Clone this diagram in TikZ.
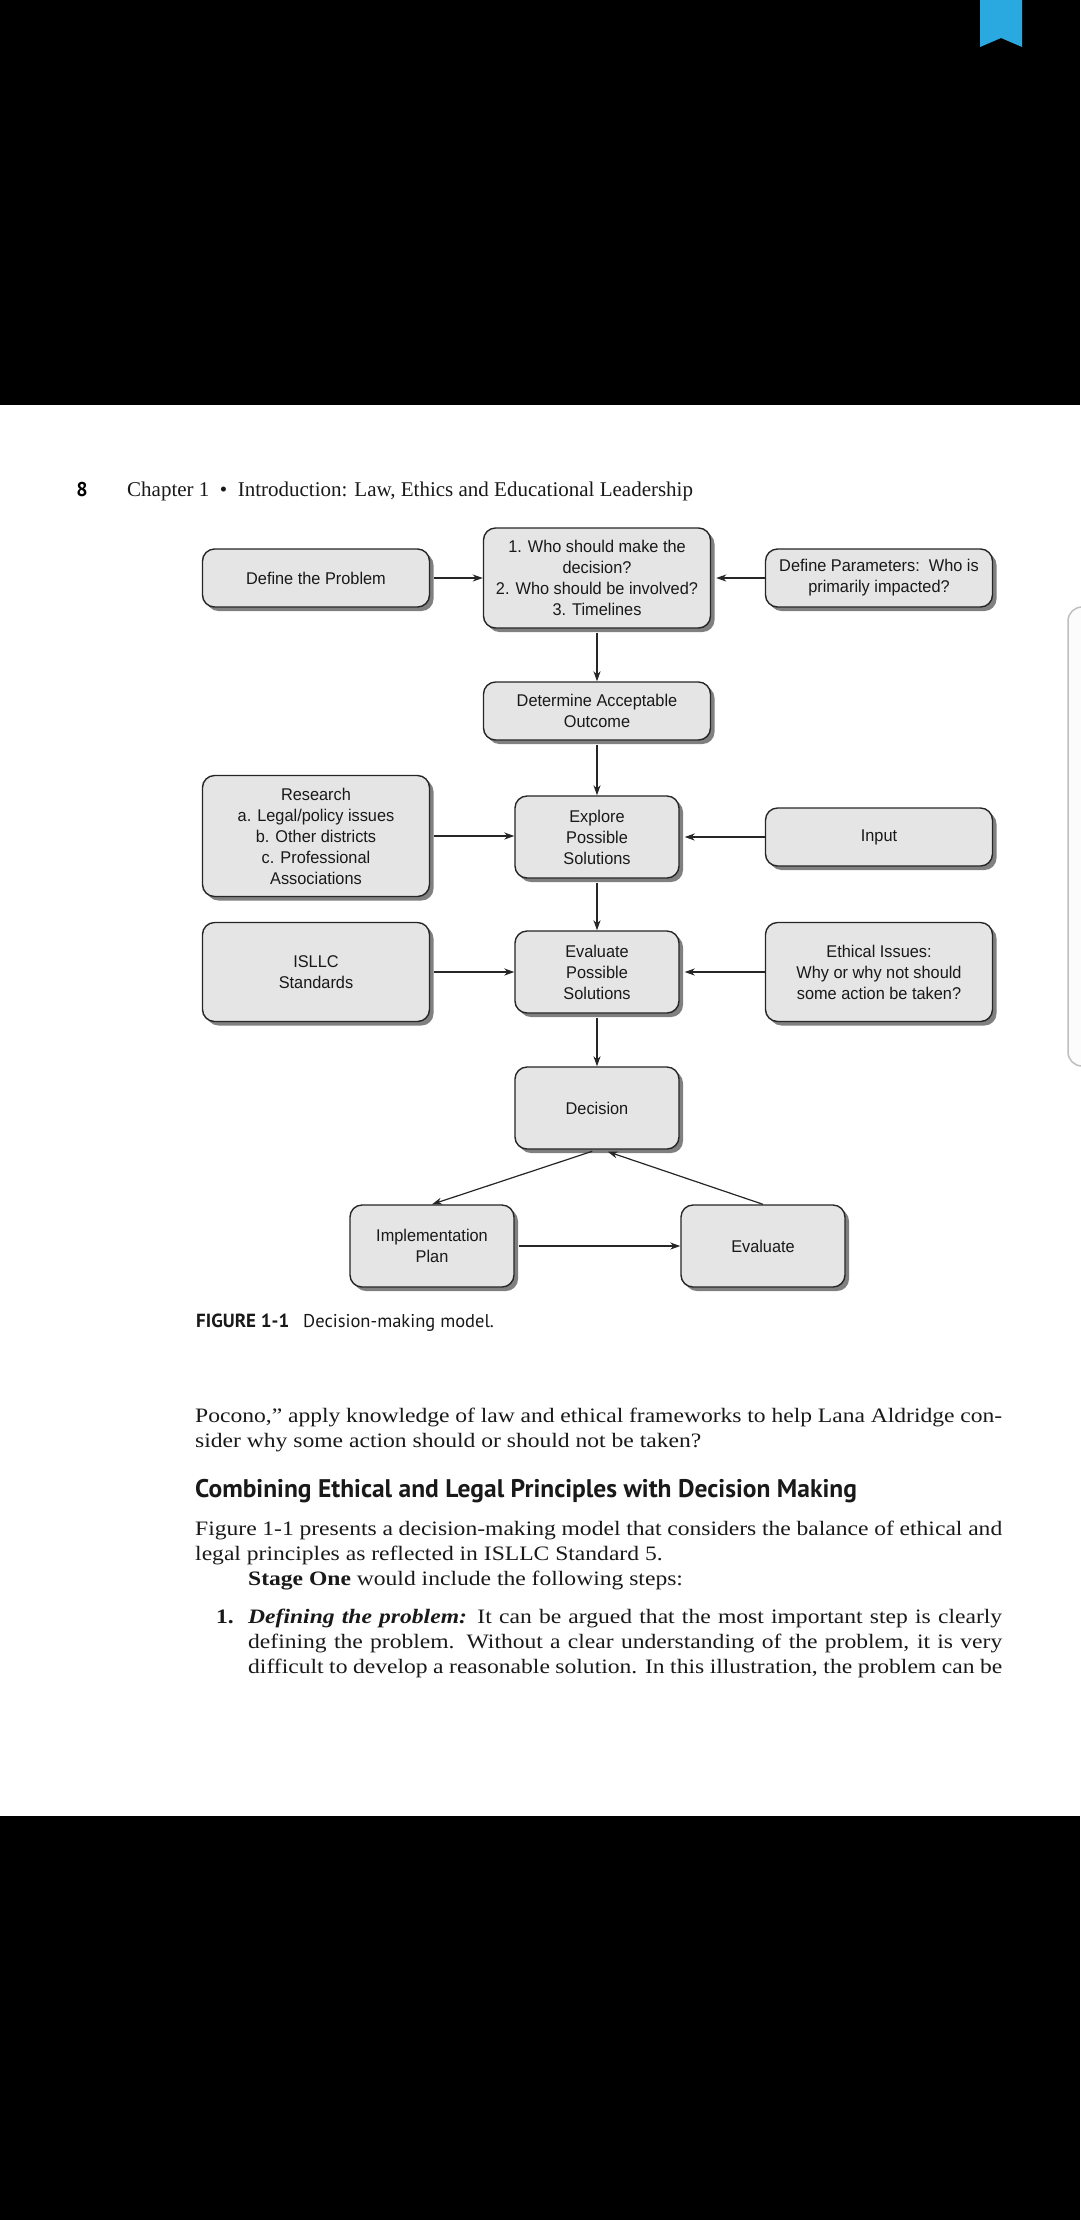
\documentclass[tikz,border=0pt]{standalone}
\usepackage{fontspec}
\setmainfont{Liberation Serif}
\newfontfamily\bodyfont[FakeStretch=1.15]{Liberation Serif}
\newfontfamily\figfont[FakeStretch=0.96]{Liberation Sans}
\newfontfamily\capfont{PT Sans}
\usetikzlibrary{arrows.meta,shadows}
\definecolor{bookblue}{HTML}{2AA9E0}

\tikzset{
  flowbox/.style={draw=black!85, line width=1.4pt, fill=black!10, rounded corners=12pt,
    align=center, inner sep=0pt, text=black!90, font=\figfont\fontsize{17}{21}\selectfont,
    drop shadow={shadow xshift=4pt, shadow yshift=-4pt, fill=black!50, opacity=1}},
  wide/.style={minimum width=227pt},
  narrow/.style={minimum width=164pt},
  flowarr/.style={->, >={Stealth[length=10pt,width=7pt,inset=3pt]}, line width=1.2pt, draw=black!85},
  bodyline/.style={anchor=base west, inner sep=0pt, text=black!90, font=\bodyfont\fontsize{20.5}{25}\selectfont},
  sansline/.style={anchor=base west, inner sep=0pt, text=black!90, font=\capfont\fontsize{18.5}{20}\selectfont},
}

\begin{document}
\begin{tikzpicture}[x=1pt,y=1pt]
\useasboundingbox (0,0) rectangle (1080,-2220);

\fill[white] (0,-405) rectangle (1080,-1816);
\fill[black] (0,0) rectangle (1080,-405);
\fill[black] (0,-1816) rectangle (1080,-2220);
\fill[bookblue] (980,0) -- (1022,0) -- (1022,-47) -- (1001,-38) -- (980,-47) -- cycle;
\draw[black!25, line width=1.5pt, fill=black!1, rounded corners=14pt] (1068,-607) rectangle (1110,-1066);

\node[anchor=base, inner sep=0pt, font=\capfont\bfseries\fontsize{20}{24}\selectfont] (pagenum) at (82,-496) {8};
\node[anchor=base west, inner sep=0pt, text=black!90, font=\fontsize{21}{24}\selectfont] (runhead) at (127,-496) {Chapter 1\ \ \textbullet\ \ Introduction: Law, Ethics and Educational Leadership};

\node[flowbox, wide, minimum height=58pt] (problem) at (316,-578) {Define the Problem};
\node[flowbox, wide, minimum height=100pt] (who) at (597,-578) {1. Who should make the\\decision?\\2. Who should be involved?\\3. Timelines};
\node[flowbox, wide, minimum height=58pt] (params) at (879,-578) {Define Parameters:\ \ Who is\\primarily impacted?};
\node[flowbox, wide, minimum height=58pt] (outcome) at (597,-711) {Determine Acceptable\\Outcome};
\node[flowbox, wide, minimum height=121pt] (research) at (316,-836) {Research\\a. Legal/policy issues\\b. Other districts\\c. Professional\\Associations};
\node[flowbox, narrow, minimum height=82pt] (explore) at (597,-837) {Explore\\Possible\\Solutions};
\node[flowbox, wide, minimum height=58pt] (input) at (879,-837) {Input};
\node[flowbox, wide, minimum height=99pt] (isllc) at (316,-972) {ISLLC\\Standards};
\node[flowbox, narrow, minimum height=82pt] (evalsol) at (597,-972) {Evaluate\\Possible\\Solutions};
\node[flowbox, wide, minimum height=99pt] (ethics) at (879,-972) {Ethical Issues:\\Why or why not should\\some action be taken?};
\node[flowbox, narrow, minimum height=82pt] (decision) at (597,-1108) {Decision};
\node[flowbox, narrow, minimum height=82pt] (plan) at (432,-1246) {Implementation\\Plan};
\node[flowbox, narrow, minimum height=82pt] (evaluate) at (763,-1246) {Evaluate};

\draw[flowarr, shorten <=4pt] (problem.east) -- (who.west);
\draw[flowarr, shorten >=5pt] (params.west) -- (who.east);
\draw[flowarr, shorten <=4pt] (who.south) -- (outcome.north);
\draw[flowarr, shorten <=4pt] (outcome.south) -- (explore.north);
\draw[flowarr, shorten <=4pt] (research.east) -- (research.east -| explore.west);
\draw[flowarr, shorten >=5pt] (input.west) -- (input.west -| explore.east);
\draw[flowarr, shorten <=4pt] (explore.south) -- (evalsol.north);
\draw[flowarr, shorten <=4pt] (isllc.east) -- (isllc.east -| evalsol.west);
\draw[flowarr, shorten >=5pt] (ethics.west) -- (ethics.west -| evalsol.east);
\draw[flowarr, shorten <=4pt] (evalsol.south) -- (decision.north);
\draw[flowarr, shorten <=5pt] (decision.south) -- (plan.north);
\draw[flowarr, shorten >=6pt] (evaluate.north) -- ([xshift=5pt]decision.south);
\draw[flowarr, shorten <=4pt] (plan.east) -- (evaluate.west);

\node[sansline, font=\capfont\bfseries\fontsize{19}{20}\selectfont] (figlabel) at (196,-1327) {FIGURE 1-1};
\node[sansline] (figtitle) at (303,-1327) {Decision-making model.};

\node[bodyline] (line1) at (195,-1422) {\makebox[807pt][s]{Pocono,” apply knowledge of law and ethical frameworks to help Lana Aldridge con-}};
\node[bodyline] (line2) at (195,-1447) {sider why some action should or should not be taken?};
\node[sansline, font=\capfont\bfseries\fontsize{25.5}{28}\selectfont] (heading) at (195,-1497) {Combining Ethical and Legal Principles with Decision Making};
\node[bodyline] (line3) at (195,-1535) {\makebox[807pt][s]{Figure 1-1 presents a decision-making model that considers the balance of ethical and}};
\node[bodyline] (line4) at (195,-1560) {legal principles as reflected in ISLLC Standard 5.};
\node[bodyline] (line5) at (248,-1585) {\textbf{Stage One} would include the following steps:};
\node[bodyline] (itemnum) at (216,-1623) {\textbf{1.}};
\node[bodyline] (line6) at (248,-1623) {\makebox[754pt][s]{\textbf{\textit{Defining the problem:}} It can be argued that the most important step is clearly}};
\node[bodyline] (line7) at (248,-1648) {\makebox[754pt][s]{defining the problem. Without a clear understanding of the problem, it is very}};
\node[bodyline] (line8) at (248,-1673) {\makebox[754pt][s]{difficult to develop a reasonable solution. In this illustration, the problem can be}};

\end{tikzpicture}
\end{document}
